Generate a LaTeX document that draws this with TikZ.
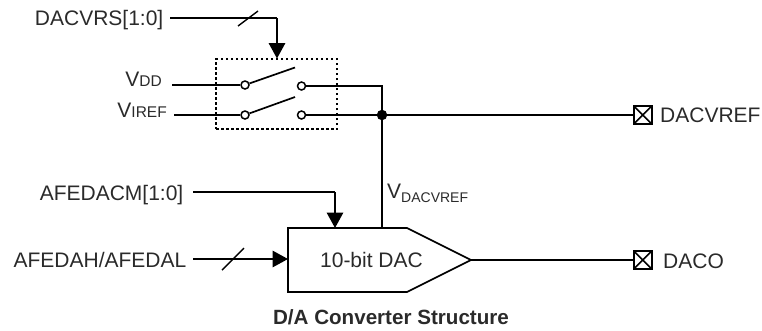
\documentclass[tikz,border=0pt]{standalone}
\usepackage{fontspec}
\setmainfont{Liberation Sans}
\usetikzlibrary{arrows.meta}
\definecolor{txt}{HTML}{2A2A2A}
\newcommand{\bigtxt}{\fontsize{21}{24}\selectfont}
\newcommand{\smalltxt}{\fontsize{15.5}{18}\selectfont}
\newcommand{\subtxt}{\fontsize{14}{18}\selectfont}
\tikzset{
  wire/.style={line width=1.7pt,black},
  arrowed/.style={wire,-{Triangle[length=15.5pt,width=16.5pt]}},
  slash/.style={line width=1.4pt,black},
  lbl/.style={inner sep=0pt,text=txt,font=\bigtxt,anchor=base west},
  rlbl/.style={inner sep=0pt,text=txt,font=\bigtxt,anchor=base east},
  term/.style={circle,draw=black,line width=1.5pt,fill=white,inner sep=0pt,minimum size=8pt},
  dot/.style={circle,fill=black,inner sep=0pt,minimum size=10.5pt},
  padbox/.style={rectangle,draw=black,line width=2pt,fill=white,inner sep=0pt,minimum size=18pt,
    path picture={\draw[line width=1.5pt,black] (path picture bounding box.north west)--(path picture bounding box.south east)
      (path picture bounding box.north east)--(path picture bounding box.south west);}},
}
\begin{document}
\begin{tikzpicture}[x=1pt,y=-1pt]
\useasboundingbox (0,0) rectangle (762,330);
% labels
\node[rlbl] (dacvrs) at (163.5,25) {DACVRS[1:0]};
\node[rlbl] (vdd) at (162,86) {V{\smalltxt DD}};
\node[rlbl] (viref) at (167,117) {V{\smalltxt IREF}};
\node[rlbl] (afedacm) at (183.5,200) {AFEDACM[1:0]};
\node[rlbl] (afedah) at (186.5,267) {AFEDAH/AFEDAL};
\node[lbl] (dacvreflbl) at (660,122.5) {DACVREF};
\node[lbl] (dacolbl) at (663,268) {DACO};
\node[lbl] (vdv) at (387,198) {V{\subtxt\raisebox{-4pt}{DACVREF}}};
% coordinates
\coordinate (a0) at (170,18);
\coordinate (a1) at (277,18);
\coordinate (a2) at (277,58.5);
\coordinate (b0) at (172,85);
\coordinate (c0) at (174,115);
\coordinate (m0) at (193,192);
\coordinate (m1) at (335,192);
\coordinate (m2) at (335,228);
\coordinate (h0) at (193,259);
\coordinate (h1) at (288,259);
\coordinate (vtop) at (382,86);
\coordinate (vbot) at (382,228);
\coordinate (dtip) at (471,260);
% dotted box
\node[draw=black,line width=1.4pt,dash pattern=on 2.5pt off 2.5pt,minimum width=121pt,minimum height=70pt,inner sep=0pt] (swbox) at (276.5,94) {};
% wires behind terminals
\draw[wire] (a0) -- (a1);
\draw[arrowed] (a1) -- (a2);
\draw[slash] (238,26) -- (258,11);
\node[term] (s1a) at (245,85) {};
\node[term] (s1b) at (301.5,86) {};
\node[term] (s2a) at (245,115) {};
\node[term] (s2b) at (301.5,115) {};
\node[dot] (junc) at (382,115) {};
\node[padbox] (pref) at (642.7,115) {};
\node[padbox] (pdaco) at (642.7,260) {};
\draw[wire] (b0) -- (s1a);
\draw[wire] (c0) -- (s2a);
\draw[wire] (s1b) -- (vtop) -- (vbot);
\draw[wire] (s2b) -- (junc) -- (pref);
\coordinate (sw1) at (295,67.5);
\coordinate (sw2) at (295,97);
\draw[wire] (s1a) -- (sw1);
\draw[wire] (s2a) -- (sw2);
% DAC
\draw[wire,line join=miter] (288,228) -- (407,228) -- (dtip) -- (407,292) -- (288,292) -- cycle;
\node[inner sep=0pt,text=txt,font=\bigtxt,anchor=base] (dac) at (371.5,267) {10-bit DAC};
\draw[wire] (m0) -- (m1);
\draw[arrowed] (m1) -- (m2);
\draw[arrowed] (h0) -- (h1);
\draw[slash] (222,270) -- (244,248);
\draw[wire] (dtip) -- (pdaco);
\node[inner sep=0pt,text=txt,font=\fontsize{20.6}{24}\selectfont\bfseries,anchor=base] (title) at (391,324) {D/A Converter Structure};
\end{tikzpicture}
\end{document}
